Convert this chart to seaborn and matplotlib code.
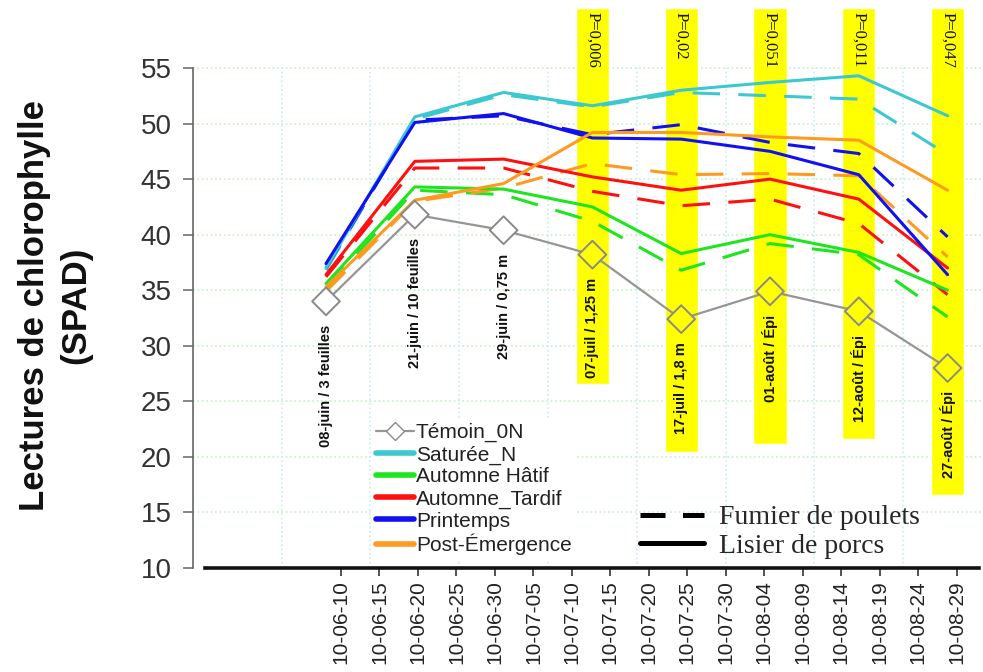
import matplotlib
matplotlib.use("Agg")
import matplotlib.pyplot as plt
from matplotlib.lines import Line2D
import pandas as pd
import seaborn as sns

# ── Data ─────────────────────────────────────────────────────────────────────

STAGES = ["08-juin / 3 feuilles", "21-juin / 10 feuilles", "29-juin / 0,75 m",
          "07-juil / 1,25 m", "17-juil / 1,8 m", "01-août / Épi",
          "12-août / Épi", "27-août / Épi"]

DATE_TICKS = ["10-06-10", "10-06-15", "10-06-20", "10-06-25", "10-06-30",
              "10-07-05", "10-07-10", "10-07-15", "10-07-20", "10-07-25",
              "10-07-30", "10-08-04", "10-08-09", "10-08-14", "10-08-19",
              "10-08-24", "10-08-29"]

TEMOIN = [34.0, 41.8, 40.4, 38.2, 32.4, 34.9, 33.1, 28.0]

TREATMENTS = ["Saturée_N", "Automne Hâtif", "Automne_Tardif", "Printemps", "Post-Émergence"]

# Lisier de porcs (solid)
SATUREE_LISIER = [37.0, 50.6, 52.8, 51.6, 53.0, 53.7, 54.3, 50.7]
HATIF_LISIER = [35.6, 44.3, 44.1, 42.5, 38.3, 40.0, 38.4, 35.0]
TARDIF_LISIER = [36.4, 46.6, 46.8, 45.2, 44.0, 45.0, 43.2, 37.0]
PRINTEMPS_LISIER = [37.4, 50.1, 50.9, 48.7, 48.6, 47.5, 45.4, 36.4]
POST_LISIER = [35.3, 43.1, 44.6, 49.2, 49.2, 48.8, 48.5, 44.0]

# Fumier de poulets (dashed)
SATUREE_FUMIER = [36.8, 50.4, 52.6, 51.5, 52.8, 52.5, 52.2, 47.2]
HATIF_FUMIER = [35.2, 44.0, 43.6, 41.2, 36.8, 39.2, 38.2, 32.6]
TARDIF_FUMIER = [36.2, 46.0, 46.0, 43.9, 42.6, 43.2, 41.0, 34.6]
PRINTEMPS_FUMIER = [37.0, 50.3, 50.7, 49.0, 49.9, 48.3, 47.3, 39.8]
POST_FUMIER = [34.9, 43.0, 44.2, 46.4, 45.4, 45.5, 45.3, 38.0]

# significance bands (stage index, p-value text, band bottom)
P_STAGES = [3, 4, 5, 6, 7]
P_LABELS = ["P=0,006", "P=0,02", "P=0,051", "P=0,011", "P=0,047"]
BAND_BOTTOM = [26.6, 20.4, 21.2, 21.6, 16.6]
BAND_TOP = 60.4

COLORS = ["#3cc8d0", "#1ee61e", "#ff1010", "#1010f0", "#ff9a20"]

# ── Long-format table ────────────────────────────────────────────────────────

lisier = [SATUREE_LISIER, HATIF_LISIER, TARDIF_LISIER, PRINTEMPS_LISIER, POST_LISIER]
fumier = [SATUREE_FUMIER, HATIF_FUMIER, TARDIF_FUMIER, PRINTEMPS_FUMIER, POST_FUMIER]
rows = []
for name, sol, das in zip(TREATMENTS, lisier, fumier):
    for i, (a, b) in enumerate(zip(sol, das)):
        rows.append({"stade": i, "spad": a, "traitement": name, "source": "Lisier de porcs"})
        rows.append({"stade": i, "spad": b, "traitement": name, "source": "Fumier de poulets"})
df = pd.DataFrame(rows)
temoin_df = pd.DataFrame({"stade": range(len(TEMOIN)), "spad": TEMOIN,
                          "bande": [i in P_STAGES for i in range(len(TEMOIN))]})
palette = dict(zip(TREATMENTS, COLORS))

# ── Figure ───────────────────────────────────────────────────────────────────

sns.set_style("white")
plt.rcParams["font.family"] = ["Liberation Sans", "DejaVu Sans"]

fig = plt.figure(figsize=(9.83, 6.72), dpi=100)
ax = fig.add_axes([193 / 983, 1 - 568 / 672, 790 / 983, 568 / 672])
ax.set_xlim(-1.498, 7.399)
ax.set_ylim(10, 61.12)

# grid
for y in range(15, 60, 5):
    ax.axhline(y, color="#c4f2c4", ls=":", lw=1.2, zorder=0)
ax.vlines([i + 0.5 for i in range(-1, 8)], 10, 55, color="#c6eef4", ls=":", lw=1.2, zorder=0)

# yellow bands
ax.bar(P_STAGES, [BAND_TOP - b for b in BAND_BOTTOM], bottom=BAND_BOTTOM,
       width=0.375, color="#ffff00", zorder=0.5)
for s, lab in zip(P_STAGES, P_LABELS):
    ax.text(s, BAND_TOP - 0.35, lab, rotation=-90, ha="center", va="top",
            family="Liberation Serif", fontsize=12, color="#111")

# treatment lines
sns.lineplot(data=df[df["source"] == "Fumier de poulets"], x="stade", y="spad",
             hue="traitement", palette=palette, hue_order=TREATMENTS, linewidth=2.2,
             linestyle=(0, (9, 6)), legend=False, ax=ax, zorder=2)
sns.lineplot(data=df[df["source"] == "Lisier de porcs"], x="stade", y="spad",
             hue="traitement", palette=palette, hue_order=TREATMENTS, linewidth=2.2,
             legend=False, ax=ax, zorder=3)

# control
sns.lineplot(data=temoin_df, x="stade", y="spad", color="#959595", linewidth=1.6,
             ax=ax, zorder=4)
sns.scatterplot(data=temoin_df, x="stade", y="spad", hue="bande",
                palette={True: "#ffff00", False: "white"}, marker="D", s=200,
                edgecolor="#8a8a8a", linewidth=1.4, legend=False, ax=ax, zorder=5)

for i, (lab, v) in enumerate(zip(STAGES, TEMOIN)):
    ax.text(i, v - 2.1, lab, rotation=90, ha="center", va="top",
            fontsize=10.5, fontweight="bold", color="#111", zorder=6)

# axes styling
for side in ("top", "right"):
    ax.spines[side].set_visible(False)
ax.spines["left"].set_bounds(10, 55)
ax.spines["left"].set_color("#666")
ax.spines["left"].set_linewidth(1.2)
ax.spines["bottom"].set_bounds(-1.36, 7.35)
ax.spines["bottom"].set_color("#111")
ax.spines["bottom"].set_linewidth(2.6)

ax.set_yticks(range(10, 60, 5))
ax.tick_params(axis="y", direction="out", length=7.5, width=1.1, color="#666",
               pad=8, labelsize=20, labelcolor="#333", left=True)
tick_x = [0.169 + 0.4333 * j for j in range(len(DATE_TICKS))]
ax.set_xticks(tick_x)
ax.set_xticklabels(DATE_TICKS, rotation=90)
ax.tick_params(axis="x", direction="out", length=6, width=1.2, color="#333",
               pad=3, labelsize=15, labelcolor="#222", bottom=True)
ax.set_xlabel("")
ax.set_ylabel("")

fig.text(55 / 983, 1 - 305 / 672, "Lectures de chlorophylle\n(SPAD)", rotation=90,
         ha="center", va="center", multialignment="center", fontsize=25,
         fontweight="bold", color="#111", linespacing=1.3)

# legends
handles = [Line2D([], [], color="#959595", lw=1.6, marker="D", markersize=9,
                  markerfacecolor="white", markeredgecolor="#8a8a8a")]
handles += [Line2D([], [], color=c, lw=4) for c in COLORS]
leg1 = ax.legend(handles, ["Témoin_0N"] + TREATMENTS, loc="upper left",
                 bbox_to_anchor=(372 / 983, 1 - 419 / 672), bbox_transform=fig.transFigure,
                 frameon=True, facecolor="white", edgecolor="none", framealpha=1,
                 fontsize=15, handlelength=1.8, handletextpad=0.1, labelspacing=0.14,
                 borderpad=0.2, borderaxespad=0)
for t in leg1.get_texts():
    t.set_color("#222")
ax.add_artist(leg1)

src_handles = [Line2D([], [], color="black", lw=3.6, linestyle=(0, (5, 3.5))),
               Line2D([], [], color="black", lw=3.6)]
ax.legend(src_handles, ["Fumier de poulets", "Lisier de porcs"], loc="upper left",
          bbox_to_anchor=(640 / 983, 1 - 505 / 672), bbox_transform=fig.transFigure,
          frameon=False, prop={"family": "Liberation Serif", "size": 20},
          handlelength=2.3, handletextpad=0.55, labelspacing=0.1, borderpad=0,
          borderaxespad=0)

fig.savefig("out.png", dpi=100)
